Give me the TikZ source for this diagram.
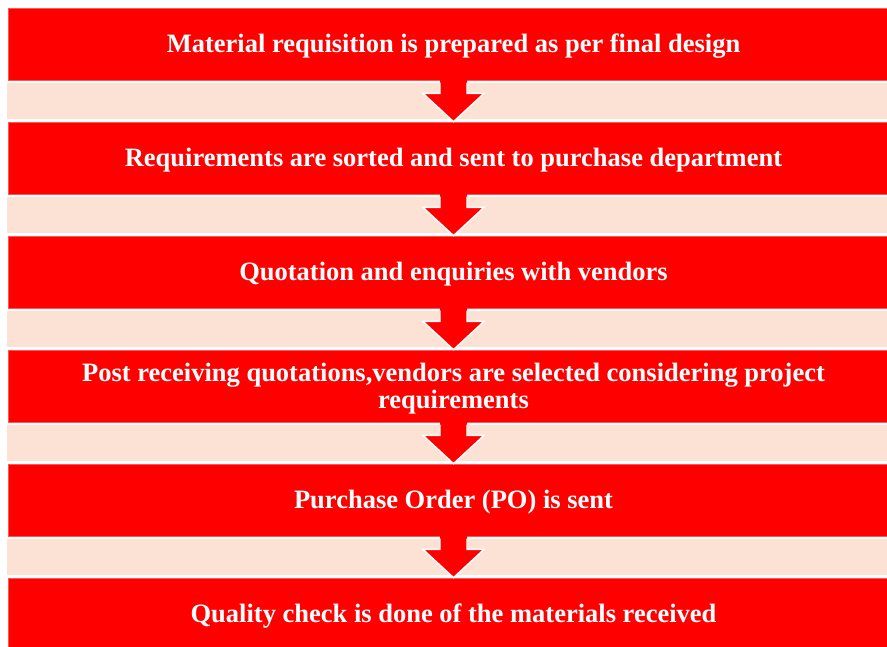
\documentclass[tikz,border=0pt]{standalone}
\usepackage{fontspec}
\setmainfont{Liberation Serif}
\usetikzlibrary{calc}
\definecolor{stepred}{RGB}{255,0,0}
\definecolor{stepedge}{RGB}{255,85,85}
\definecolor{bandfill}{RGB}{251,226,213}
\begin{document}
\begin{tikzpicture}[x=1pt,y=-1pt,
  stepbox/.style={rectangle, fill=stepred, draw=stepedge, line width=0.8pt,
    minimum width=891pt, minimum height=72pt, inner sep=0pt, align=center,
    text height=18pt, text depth=2pt,
    text=white, font=\fontsize{26.5}{27}\selectfont\bfseries},
  bandbox/.style={rectangle, fill=bandfill, draw=none,
    minimum width=893pt, minimum height=36pt, inner sep=0pt}]
  \clip (0,0) rectangle (887,646);
  \fill[white] (0,0) rectangle (887,646);

  % separating bands
  \foreach \i/\y in {1/101,2/215,3/329,4/443,5/557}
    \node[bandbox] (band\i) at (453.5,\y) {};

  % process steps
  \node[stepbox] (box1) at (453.5,44)  {Material requisition is prepared as per final design};
  \node[stepbox] (box2) at (453.5,158) {Requirements are sorted and sent to purchase department};
  \node[stepbox] (box3) at (453.5,272) {Quotation and enquiries with vendors};
  \node[stepbox, text height=46pt] (box4) at (453.5,386)
    {Post receiving quotations,vendors are selected considering project\\requirements};
  \node[stepbox] (box5) at (453.5,500) {Purchase Order (PO) is sent};
  \node[stepbox] (box6) at (453.5,614) {Quality check is done of the materials received};

  % block arrows from each step down to the next
  \foreach \a/\b in {box1/box2,box2/box3,box3/box4,box4/box5,box5/box6} {
    \fill[stepred]
      ($(\a.south)+(-13.5,-0.5)$) -- ($(\a.south)+(-13.5,13)$) --
      ($(\a.south)+(-30.5,13)$) -- (\b.north) --
      ($(\a.south)+(30.5,13)$) -- ($(\a.south)+(13.5,13)$) --
      ($(\a.south)+(13.5,-0.5)$) -- cycle;
    \draw[white, line width=1.4pt, line join=miter]
      ($(\a.south)+(-13.5,2.2)$) -- ($(\a.south)+(-13.5,13)$) --
      ($(\a.south)+(-30.5,13)$) -- (\b.north) --
      ($(\a.south)+(30.5,13)$) -- ($(\a.south)+(13.5,13)$) --
      ($(\a.south)+(13.5,2.2)$);
  }
\end{tikzpicture}
\end{document}
